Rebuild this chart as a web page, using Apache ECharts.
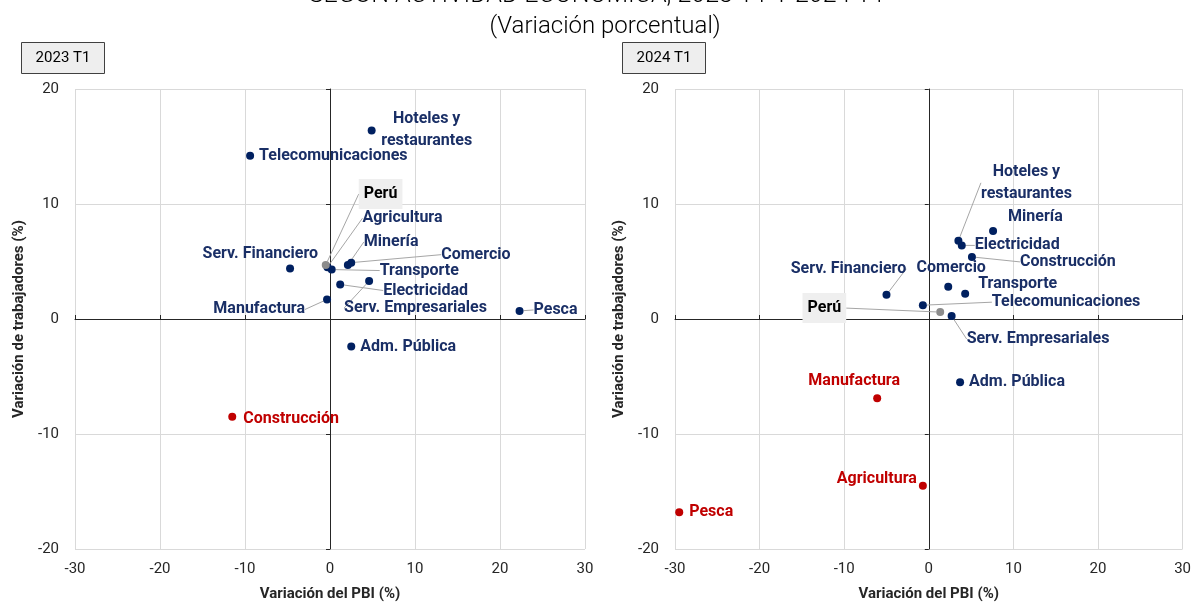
<!DOCTYPE html>
<html><head><meta charset="utf-8">
<script src="https://cdn.jsdelivr.net/npm/echarts@6/dist/echarts.min.js"></script>
<style>html,body{margin:0;padding:0;background:#fff;overflow:hidden}#c{width:1194px;height:607px}</style>
</head><body><div id="c"></div>
<script>
// ---- Data ----
const sectors2023 = ['Telecomunicaciones','Hoteles y\nrestaurantes','Agricultura','Minería','Comercio','Transporte','Serv. Financiero','Electricidad','Serv. Empresariales','Manufactura','Pesca','Adm. Pública','Construcción','Perú'];
const pbi2023     = [-9.4, 4.9, -0.3, 2.1, 2.5, 0.2, -4.7, 1.2, 4.6, -0.35, 22.3, 2.5, -11.5, -0.5];
const empleo2023  = [14.2, 16.4, 4.5, 4.7, 4.9, 4.3, 4.4, 3.0, 3.3, 1.7, 0.7, -2.4, -8.5, 4.7];

const sectors2024 = ['Hoteles y\nrestaurantes','Electricidad','Minería','Construcción','Serv. Financiero','Comercio','Transporte','Telecomunicaciones','Serv. Empresariales','Adm. Pública','Manufactura','Agricultura','Pesca','Perú'];
const pbi2024     = [3.5, 3.9, 7.6, 5.1, -5.0, 2.3, 4.3, -0.7, 2.7, 3.7, -6.1, -0.7, -29.5, 1.35];
const empleo2024  = [6.8, 6.4, 7.65, 5.4, 2.1, 2.8, 2.2, 1.2, 0.26, -5.5, -6.9, -14.5, -16.8, 0.6];

const xTickLabels = [-30, -20, -10, 0, 10, 20, 30];
const yTickLabels = [-20, -10, 0, 10, 20];
const periodLabels = ['2023 T1', '2024 T1'];
const titleText = 'SEGÚN ACTIVIDAD ECONÓMICA, 2023 T1 Y 2024 T1';
const subtitleText = '(Variación porcentual)';
const xAxisTitle = 'Variación del PBI (%)';
const yAxisTitle = 'Variación de trabajadores (%)';
const countryName = 'Perú';

// ---- Label placement (styling only) ----
const place2023 = {
  'Telecomunicaciones': {dx:0, dy:0},
  'Hoteles y\nrestaurantes': {align:'center', dx:46, dy:0},
  'Agricultura': {dx:26, dy:-49, line:true},
  'Minería': {dx:7, dy:-23, line:true},
  'Comercio': {dx:81, dy:-8, line:true},
  'Transporte': {dx:39, dy:1, line:true},
  'Serv. Financiero': {align:'right', dx:19, dy:-14},
  'Electricidad': {dx:34, dy:6, line:true},
  'Serv. Empresariales': {dx:-34, dy:27, line:true},
  'Manufactura': {align:'right', dx:-31, dy:10, line:true},
  'Pesca': {dx:5, dy:-1, line:true},
  'Adm. Pública': {dx:0, dy:0},
  'Construcción': {dx:2, dy:2},
  'Perú': {dx:24, dy:-71, line:true}
};
const place2024 = {
  'Hoteles y\nrestaurantes': {align:'center', dx:59, dy:-58, line:true},
  'Electricidad': {dx:4, dy:0, line:true},
  'Minería': {dx:6, dy:-14},
  'Construcción': {dx:39, dy:5, line:true},
  'Serv. Financiero': {align:'center', dx:-47, dy:-26, line:true},
  'Comercio': {align:'center', dx:-6, dy:-19},
  'Transporte': {dx:4, dy:-10},
  'Telecomunicaciones': {dx:60, dy:-3, line:true},
  'Serv. Empresariales': {dx:6, dy:23, line:true},
  'Adm. Pública': {dx:0, dy:0},
  'Manufactura': {align:'center', dx:-32, dy:-17},
  'Agricultura': {align:'right', dx:-15, dy:-7},
  'Pesca': {dx:1, dy:0},
  'Perú': {align:'right', dx:-103, dy:-4, line:true}
};

const NAVY = '#002060', RED = '#C00000', GREY = '#8c8c8c';
const FONT = 'Roboto, "Liberation Sans", sans-serif';

function buildData(names, xs, ys, place) {
  return names.map((n, i) => {
    const isCountry = n === countryName;
    const neg = xs[i] < 0 && ys[i] < 0;
    const col = isCountry ? GREY : (neg ? RED : NAVY);
    const p = place[n] || {dx:0, dy:0};
    const lbl = {
      color: isCountry ? '#000' : (neg ? RED : '#1a2f66'),
      align: p.align || 'left'
    };
    if (isCountry) { lbl.backgroundColor = '#efefef'; lbl.padding = [4, 5]; }
    return {
      name: n,
      value: [xs[i], ys[i]],
      itemStyle: {color: col, opacity: 1},
      label: lbl,
      labelLine: {show: !!p.line}
    };
  });
}

function axesFor(gridIndex) {
  const xs = [
    { type:'value', gridIndex, min:xTickLabels[0], max:xTickLabels[xTickLabels.length-1], interval:10,
      axisLine:{show:false, onZero:false}, axisTick:{show:false},
      splitLine:{show:true, lineStyle:{color:'#d9d9d9', width:1}},
      axisLabel:{color:'#262626', fontSize:15, fontFamily:FONT, margin:13},
      name:xAxisTitle, nameLocation:'middle', nameGap:38,
      nameTextStyle:{fontWeight:'bold', fontSize:15, color:'#262626', fontFamily:FONT} },
    { type:'value', gridIndex, min:xTickLabels[0], max:xTickLabels[xTickLabels.length-1], interval:10,
      axisLine:{show:true, onZero:true, lineStyle:{color:'#262626', width:1}},
      axisTick:{show:true, length:4, lineStyle:{color:'#262626'}},
      axisLabel:{show:false}, splitLine:{show:false} }
  ];
  const ys = [
    { type:'value', gridIndex, min:yTickLabels[0], max:yTickLabels[yTickLabels.length-1], interval:10,
      axisLine:{show:false, onZero:false}, axisTick:{show:false},
      splitLine:{show:true, lineStyle:{color:'#d9d9d9', width:1}},
      axisLabel:{color:'#262626', fontSize:15, fontFamily:FONT, margin:16},
      name:yAxisTitle, nameLocation:'middle', nameGap:48,
      nameTextStyle:{fontWeight:'bold', fontSize:15, color:'#262626', fontFamily:FONT} },
    { type:'value', gridIndex, min:yTickLabels[0], max:yTickLabels[yTickLabels.length-1], interval:10,
      axisLine:{show:true, onZero:true, lineStyle:{color:'#262626', width:1}},
      axisTick:{show:true, inside:true, length:4, lineStyle:{color:'#262626'}},
      axisLabel:{show:false}, splitLine:{show:false} }
  ];
  return {xs, ys};
}

const a0 = axesFor(0), a1 = axesFor(1);

function seriesFor(names, xs, ys, place, axisIdx) {
  const data = buildData(names, xs, ys, place);
  return {
    type:'scatter', xAxisIndex:axisIdx, yAxisIndex:axisIdx,
    symbolSize:8, data, z:5,
    itemStyle:{opacity:1},
    label:{show:true, position:'right', distance:5, formatter:'{b}',
      fontFamily:FONT, fontWeight:'bold', fontSize:16, lineHeight:22},
    labelLine:{show:false, lineStyle:{color:'#a6a6a6', width:1}},
    labelLayout: function (params) {
      const p = place[data[params.dataIndex].name] || {dx:0, dy:0};
      return {dx:p.dx, dy:p.dy};
    },
    emphasis:{disabled:true}
  };
}

const chart = echarts.init(document.getElementById('c'), null, {renderer:'canvas'});
chart.setOption({
  backgroundColor:'#fff',
  animation:false,
  grid:[
    {left:75, right:609, top:89, bottom:52},
    {left:675, right:9, top:89, bottom:52}
  ],
  xAxis:[a0.xs[0], a0.xs[1], a1.xs[0], a1.xs[1]],
  yAxis:[a0.ys[0], a0.ys[1], a1.ys[0], a1.ys[1]],
  series:[
    seriesFor(sectors2023, pbi2023, empleo2023, place2023, 0),
    seriesFor(sectors2024, pbi2024, empleo2024, place2024, 2)
  ],
  graphic:[
    {type:'text', left:'center', top:-17, style:{text:titleText, font:'300 25px ' + FONT, fill:'#000'}},
    {type:'text', x:605, y:27, style:{text:subtitleText, font:'300 24px ' + FONT, fill:'#000', align:'center', verticalAlign:'middle'}},
    {type:'group', x:21, y:42, children:[
      {type:'rect', shape:{x:0.5, y:0.5, width:83, height:31}, style:{fill:'#eeeeee', stroke:'#404040', lineWidth:1}},
      {type:'text', x:42, y:16, style:{text:periodLabels[0], font:'15px ' + FONT, fill:'#000', align:'center', verticalAlign:'middle'}}
    ]},
    {type:'group', x:622, y:42, children:[
      {type:'rect', shape:{x:0.5, y:0.5, width:83, height:31}, style:{fill:'#eeeeee', stroke:'#404040', lineWidth:1}},
      {type:'text', x:42, y:16, style:{text:periodLabels[1], font:'15px ' + FONT, fill:'#000', align:'center', verticalAlign:'middle'}}
    ]}
  ]
});
</script></body></html>
